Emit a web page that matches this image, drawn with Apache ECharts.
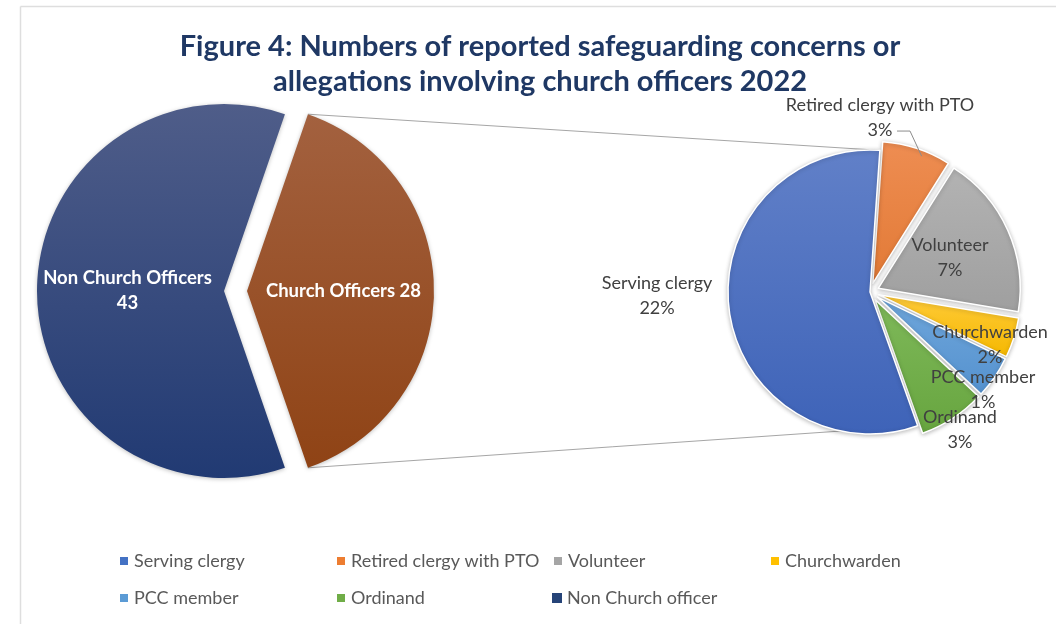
<!DOCTYPE html>
<html>
<head>
<meta charset="utf-8">
<script src="https://cdn.jsdelivr.net/npm/echarts@6/dist/echarts.min.js"></script>
<style>html,body{margin:0;padding:0;background:#fff;}#c{width:1056px;height:624px;}</style>
</head>
<body>
<div id="c"></div>
<script>
// ---- data ----
const titleText = 'Figure 4: Numbers of reported safeguarding concerns or\nallegations involving church officers 2022';
const leftNames = ['Church Officers', 'Non Church officer'];
const leftValues = [28, 43];
const leftLabels = ['Church Officers 28', 'Non Church Officers\n43'];
const rightNames = ['Retired clergy with PTO', 'Volunteer', 'Churchwarden', 'PCC member', 'Ordinand', 'Serving clergy'];
const rightValues = [3.1, 7.4, 1.8, 1.9, 3.0, 22.4]; // share of all concerns (%)
const rightLabels = ['3%', '7%', '2%', '1%', '3%', '22%']; // percentage labels as printed
const legendNames = ['Serving clergy', 'Retired clergy with PTO', 'Volunteer', 'Churchwarden', 'PCC member', 'Ordinand', 'Non Church officer'];

// ---- layout / style ----
const L = { cx: 224, cy: 291, r: 187, off: 23 };
const R = { cx: 870, cy: 292, r: 142, off: 9, start: 86 };
const FONT = 'Lato, "Open Sans", sans-serif';
function grad(top, bottom) {
  return new echarts.graphic.LinearGradient(0, 0, 0, 1, [{ offset: 0, color: top }, { offset: 1, color: bottom }]);
}
const rightColors = {
  'Retired clergy with PTO': ['#ee8d52', '#e27a36'],
  'Volunteer': ['#b3b3b3', '#9f9f9f'],
  'Churchwarden': ['#ffcb3a', '#f5b800'],
  'PCC member': ['#6fa6db', '#5592cf'],
  'Ordinand': ['#7fb95a', '#67a53f'],
  'Serving clergy': ['#6180c8', '#3e63b8']
};
const legendColors = {
  'Serving clergy': '#4472C4', 'Retired clergy with PTO': '#ED7D31', 'Volunteer': '#A5A5A5',
  'Churchwarden': '#FFC000', 'PCC member': '#5B9BD5', 'Ordinand': '#70AD47', 'Non Church officer': '#264478'
};
// label placement (polar, around the right pie centre): [angle deg, radius factor]
const labelSpots = {
  'Retired clergy with PTO': [86.7, 1.227],
  'Volunteer': [23, 0.612],
  'Churchwarden': [-23.8, 0.924],
  'PCC member': [-40.9, 1.053],
  'Ordinand': [-56.9, 1.16],
  'Serving clergy': [181, 1.5]
};

const rightTotal = rightValues.reduce((a, b) => a + b, 0);
const leftTotal = leftValues.reduce((a, b) => a + b, 0);
const churchHalf = leftValues[0] / leftTotal * 180;
const rad = d => d * Math.PI / 180;
const polar = (cx, cy, r, a) => [cx + r * Math.cos(rad(a)), cy - r * Math.sin(rad(a))];

// slice edge angles of the right pie
const edges = [];
let acc = R.start;
rightValues.forEach(v => { const a0 = acc; acc -= v / rightTotal * 360; edges.push([a0, acc]); });
const sIdx = rightNames.indexOf('Serving clergy');
const servStart = edges[sIdx][0], servEnd = edges[sIdx][1];

const lcx = L.cx + L.off;
const topL = polar(lcx, L.cy, L.r, churchHalf);
const botL = polar(lcx, L.cy, L.r, -churchHalf);
const topR = polar(R.cx, R.cy, R.r, servEnd);
const botR = polar(R.cx, R.cy, R.r, servStart);

// right pie labels (text from data arrays, placed around the pie)
const rightLabelGraphics = rightNames.map((n, i) => {
  const s = labelSpots[n];
  const p = polar(R.cx, R.cy, s[1] * R.r, s[0]);
  return {
    type: 'text', z: 20, x: p[0], y: p[1],
    style: { text: n + '\n' + rightLabels[i], align: 'center', verticalAlign: 'middle', fill: '#404040',
      fontFamily: FONT, fontSize: 18, lineHeight: 25 }
  };
});
// leader line for the retired clergy label
const rIdx = rightNames.indexOf('Retired clergy with PTO');
const rSpot = polar(R.cx, R.cy, labelSpots[rightNames[rIdx]][1] * R.r, labelSpots[rightNames[rIdx]][0]);
const rMid = (edges[rIdx][0] + edges[rIdx][1]) / 2;
const rOff = polar(0, 0, R.off, rMid);
const rEnd = polar(R.cx + rOff[0], R.cy + rOff[1], R.r * 0.96, 69);
const leader = {
  type: 'polyline', z: 19,
  shape: { points: [[rSpot[0] + 17, rSpot[1] + 13], [rSpot[0] + 30, rSpot[1] + 13], rEnd] },
  style: { stroke: '#8c8c8c', lineWidth: 1, fill: null }
};

const chart = echarts.init(document.getElementById('c'), null, { renderer: 'canvas' });
const option = {
  backgroundColor: '#fff',
  animation: false,
  title: {
    text: titleText, left: 535, top: 24, textAlign: 'center',
    textStyle: { fontFamily: FONT, fontWeight: 'bold', fontSize: 29, color: '#1F3864', lineHeight: 35 }
  },
  legend: {
    data: legendNames.map(n => ({ name: n, itemStyle: { color: legendColors[n] } })),
    left: 118, top: 548, width: 880, orient: 'horizontal', padding: 0,
    icon: 'rect', itemWidth: 10, itemHeight: 10, itemGap: 11, selectedMode: false,
    textStyle: { fontFamily: FONT, fontSize: 18, color: '#595959', width: 190, lineHeight: 26 }
  },
  graphic: [
    { type: 'line', z: 0, shape: { x1: 20.5, y1: 6.5, x2: 1056, y2: 6.5 }, style: { stroke: '#dedede', lineWidth: 1.5 } },
    { type: 'line', z: 0, shape: { x1: 20.5, y1: 6.5, x2: 20.5, y2: 624 }, style: { stroke: '#dedede', lineWidth: 1.5 } },
    { type: 'line', z: 0, shape: { x1: topL[0], y1: topL[1], x2: topR[0], y2: topR[1] }, style: { stroke: '#a6a6a6', lineWidth: 1 } },
    { type: 'line', z: 0, shape: { x1: botL[0], y1: botL[1], x2: botR[0], y2: botR[1] }, style: { stroke: '#a6a6a6', lineWidth: 1 } },
    leader
  ].concat(rightLabelGraphics),
  series: [
    {
      type: 'pie', name: 'left', center: [L.cx, L.cy], radius: L.r, startAngle: churchHalf, clockwise: true,
      selectedMode: 'single', selectedOffset: L.off, emphasis: { disabled: true },
      label: {
        position: 'inner', color: '#fff', fontFamily: FONT, fontWeight: 'bold', fontSize: 18.5, lineHeight: 25,
        formatter: p => leftLabels[p.dataIndex]
      },
      labelLine: { show: false },
      itemStyle: { shadowBlur: 4, shadowColor: 'rgba(0,0,0,0.25)', shadowOffsetY: 1 },
      data: leftNames.map((n, i) => ({
        name: n, value: leftValues[i], selected: i === 0,
        itemStyle: { color: i === 0 ? grad('#a3613f', '#8f4315') : grad('#4f5d89', '#213a73') }
      }))
    },
    {
      type: 'pie', name: 'right', center: [R.cx, R.cy], radius: R.r, startAngle: R.start, clockwise: true,
      selectedMode: 'multiple', selectedOffset: R.off, emphasis: { disabled: true },
      label: { show: false }, labelLine: { show: false },
      itemStyle: { borderColor: '#fff', borderWidth: 1.5, shadowBlur: 4, shadowColor: 'rgba(0,0,0,0.25)', shadowOffsetY: 1 },
      data: rightNames.map((n, i) => ({
        name: n, value: rightValues[i], selected: n !== 'Serving clergy',
        itemStyle: { color: grad(rightColors[n][0], rightColors[n][1]) }
      }))
    }
  ]
};
chart.setOption(option);
</script>
</body>
</html>
